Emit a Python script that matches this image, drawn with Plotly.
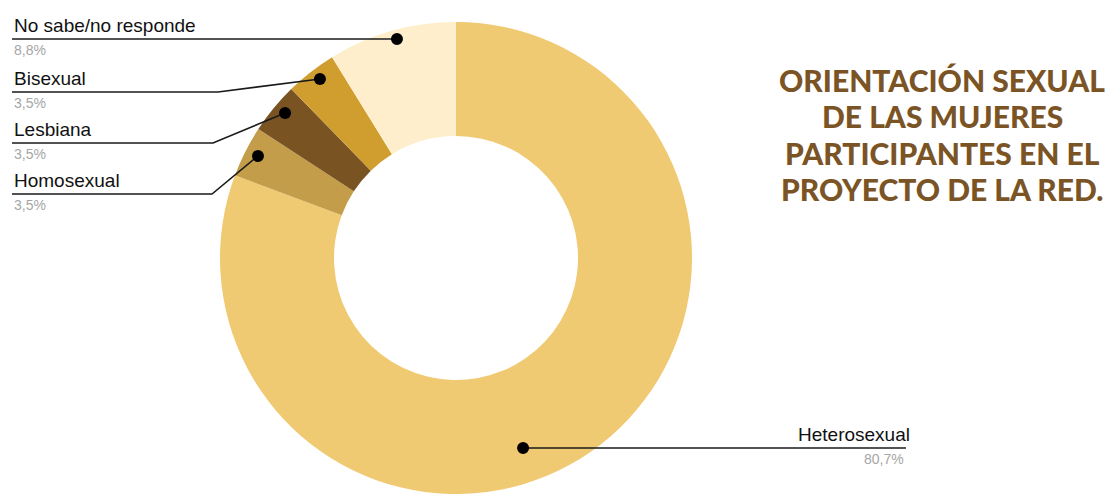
import math
import plotly.graph_objects as go

# ---- data ----
categories = ["Heterosexual", "Homosexual", "Lesbiana", "Bisexual", "No sabe/no responde"]
values = [80.7, 3.5, 3.5, 3.5, 8.8]
pct_labels = ["80,7%", "3,5%", "3,5%", "3,5%", "8,8%"]
colors = ["#F0CA72", "#C49D4B", "#7A5323", "#CF9E2F", "#FEEECB"]
title_lines = ["ORIENTACIÓN SEXUAL", "DE LAS MUJERES", "PARTICIPANTES EN EL", "PROYECTO DE LA RED."]

W, H = 1110, 494
pie_left, pie_right, pie_top = 218, 694, 22
hole = 0.517

fig = go.Figure()
fig.add_trace(go.Pie(
    labels=categories, values=values, sort=False, direction="clockwise", rotation=0,
    hole=hole, marker=dict(colors=colors, line=dict(width=0)),
    textinfo="none", hoverinfo="label+percent", showlegend=False,
    domain=dict(x=[pie_left / W, pie_right / W], y=[0, 1 - pie_top / H]),
))

# pie geometry (as plotly lays it out)
R = min(pie_right - pie_left, H - pie_top) / 2
cx = (pie_left + pie_right) / 2
cy = pie_top + R

# leader-line styling (per slice): angle offset (deg), radial fraction, label line y, elbow x
ang_off = [15.3, 0.45, 0.9, 0.75, 0.75]
rad_frac = [0.854, 0.944, 0.95, 0.953, 0.961]
line_y = [None, 194, 143, 92, None]
elbow_x = [None, 212, 213, 218, None]

total = sum(values)
cum = 0
dots = []
for v, off, rf in zip(values, ang_off, rad_frac):
    mid = (cum + v / 2) / total * 360 + off
    cum += v
    a = math.radians(mid)
    dots.append((cx + rf * R * math.sin(a), cy - rf * R * math.cos(a)))

lx0 = 12
lbl_font = dict(family="Liberation Sans, Arial, sans-serif", size=19, color="#111111")
pct_font = dict(family="Liberation Sans, Arial, sans-serif", size=14, color="#A6A6A6")

shapes = []
for i, name in enumerate(categories):
    dx, dy = dots[i]
    if i == 0:
        pts = [(dx, dy), (906, dy)]
        ly = dy
        ax, anchor, px = 912, "right", 906
    elif line_y[i] is None:
        pts = [(dx, dy), (lx0, dy)]
        ly = dy
        ax, anchor, px = lx0, "left", lx0
    else:
        ly = line_y[i]
        pts = [(dx, dy), (elbow_x[i], ly), (lx0, ly)]
        ax, anchor, px = lx0, "left", lx0
    path = "M " + " L ".join(f"{x:.2f},{y:.2f}" for x, y in pts)
    shapes.append(dict(type="path", path=path, xref="x", yref="y", layer="above",
                       line=dict(color="#1a1a1a", width=1.6)))
    shapes.append(dict(type="circle", xref="x", yref="y", layer="above",
                       x0=dx - 6, x1=dx + 6, y0=dy - 6, y1=dy + 6,
                       fillcolor="#000000", line=dict(width=0)))
    fig.add_annotation(x=ax, y=ly - 1, xref="x", yref="y", text=name, showarrow=False,
                       xanchor=anchor, yanchor="bottom", font=lbl_font)
    fig.add_annotation(x=px, y=ly + 1, xref="x", yref="y", text=pct_labels[i], showarrow=False,
                       xanchor=anchor, yanchor="top", font=pct_font)

title_baselines = [91, 127, 164, 200]
for line, yb in zip(title_lines, title_baselines):
    fig.add_annotation(x=942, y=yb - 11, xref="x", yref="y", text=line,
                       showarrow=False, xanchor="center", yanchor="middle",
                       font=dict(family="Lato, Open Sans, sans-serif", size=30,
                                 color="#7B5426", weight=900))

fig.update_layout(
    width=W, height=H, margin=dict(l=0, r=0, t=0, b=0),
    paper_bgcolor="white", plot_bgcolor="rgba(0,0,0,0)",
    shapes=shapes,
    xaxis=dict(range=[0, W], visible=False, domain=[0, 1], fixedrange=True),
    yaxis=dict(range=[H, 0], visible=False, domain=[0, 1], fixedrange=True),
)

fig.write_html("out.html", config={"displayModeBar": False},
               post_script="document.body.style.margin='0';document.body.style.overflow='hidden';")
